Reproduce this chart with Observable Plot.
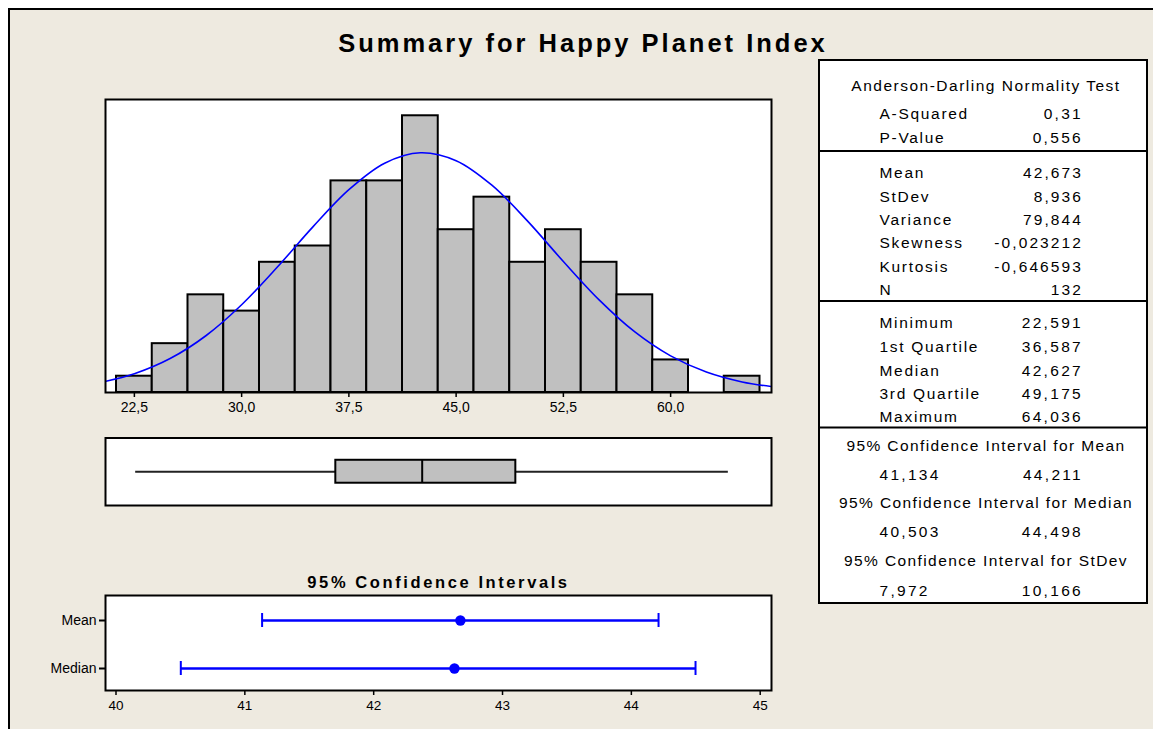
<!DOCTYPE html>
<html><head><meta charset="utf-8">
<script src="https://cdn.jsdelivr.net/npm/d3@7"></script>
<script src="https://cdn.jsdelivr.net/npm/@observablehq/plot@0.6"></script>
<style>
html,body{margin:0;padding:0;background:#fff;}
#page{position:relative;width:1153px;height:729px;overflow:hidden;background:#fff;font-family:"Liberation Sans",Arial,sans-serif;}
#panel{position:absolute;left:8px;top:8px;width:1160px;height:740px;background:#EEEAE0;border-left:2px solid #000;border-top:2px solid #000;}
#page svg{position:absolute;left:0;top:0;}
</style></head><body><div id="page"><div id="panel"></div></div>
<script>
// ---------- data ----------
const chartTitle = "Summary for Happy Planet Index";
const binLower = [21.25,23.75,26.25,28.75,31.25,33.75,36.25,38.75,41.25,43.75,46.25,48.75,51.25,53.75,56.25,58.75,61.25,63.75];
const binUpper = [23.75,26.25,28.75,31.25,33.75,36.25,38.75,41.25,43.75,46.25,48.75,51.25,53.75,56.25,58.75,61.25,63.75,66.25];
const binCounts = [1,3,6,5,8,9,13,13,17,10,12,8,10,8,6,2,0,1];
const histTicks = [22.5,30,37.5,45,52.5,60];
// fitted normal curve (in count units)
const curveX = [20,22.5,25,27.5,30,32.5,35,37.5,40,42.5,45,47.5,50,52.5,55,57.5,60,62.5,65,67.5];
const curveY = [0.589,1.152,2.084,3.486,5.390,7.707,10.191,12.460,14.088,14.730,14.242,12.733,10.527,8.047,5.690,3.719,2.248,1.256,0.650,0.311];
// boxplot
const boxMin = 22.591, boxQ1 = 36.587, boxMedian = 42.627, boxQ3 = 49.175, boxMax = 64.036;
// confidence intervals
const ciLabels = ["Mean","Median"];
const ciLow = [41.134, 40.503];
const ciHigh = [44.211, 44.498];
const ciEstimate = [42.673, 42.627];
const ciTicks = [40,41,42,43,44,45];
const ciTitle = "95% Confidence Intervals";
// statistics table
const adHeader = "Anderson-Darling Normality Test";
const adLabels = ["A-Squared","P-Value"];
const adValues = ["0,31","0,556"];
const descLabels = ["Mean","StDev","Variance","Skewness","Kurtosis","N"];
const descValues = ["42,673","8,936","79,844","-0,023212","-0,646593","132"];
const quartLabels = ["Minimum","1st Quartile","Median","3rd Quartile","Maximum"];
const quartValues = ["22,591","36,587","42,627","49,175","64,036"];
const ciHeaders = ["95% Confidence Interval for Mean","95% Confidence Interval for Median","95% Confidence Interval for StDev"];
const ciLowText = ["41,134","40,503","7,972"];
const ciHighText = ["44,211","44,498","10,166"];

// ---------- layout ----------
const W = 1153, H = 729;
const FONT = '"Liberation Sans", Arial, sans-serif';
const page = document.getElementById("page");
const frameL = 105, frameR = 771;
const histXDomain = [20.481, 67.054];
const baseStyle = {background: "transparent", fontFamily: FONT, color: "#000", overflow: "visible"};

const bins = binLower.map((lo, i) => ({lo, hi: binUpper[i], n: binCounts[i]}));
const curve = curveX.map((x, i) => ({x, y: curveY[i]}));

// Histogram
const hist = Plot.plot({
  width: W, height: H,
  marginLeft: frameL, marginRight: W - frameR, marginTop: 99, marginBottom: H - 392,
  style: baseStyle,
  x: {domain: histXDomain, axis: null},
  y: {domain: [0, 18], axis: null},
  marks: [
    Plot.frame({fill: "white"}),
    Plot.rect(bins, {x1: "lo", x2: "hi", y1: 0, y2: "n", fill: "#C0C0C0", stroke: "black", strokeWidth: 2}),
    Plot.line(curve, {x: "x", y: "y", stroke: "#0000FF", strokeWidth: 1.6, curve: "catmull-rom", clip: true}),
    Plot.frame({stroke: "black", strokeWidth: 2}),
    Plot.axisX(histTicks, {anchor: "bottom", tickSize: 5, tickPadding: 5, fontSize: 14, strokeWidth: 1.5,
      tickFormat: d => d.toFixed(1).replace(".", ","), label: null})
  ]
});
page.appendChild(hist);

// Boxplot
const box = Plot.plot({
  width: W, height: H,
  marginLeft: frameL, marginRight: W - frameR, marginTop: 437.5, marginBottom: H - 505,
  style: baseStyle,
  x: {domain: histXDomain, axis: null},
  y: {domain: [0, 1], axis: null},
  marks: [
    Plot.frame({fill: "white", stroke: "black", strokeWidth: 2}),
    Plot.ruleY([0.5], {x1: boxMin, x2: boxQ1, stroke: "#222", strokeWidth: 2}),
    Plot.ruleY([0.5], {x1: boxQ3, x2: boxMax, stroke: "#222", strokeWidth: 2}),
    Plot.rect([0], {x1: boxQ1, x2: boxQ3, y1: 0.33, y2: 0.67, fill: "#C0C0C0", stroke: "black", strokeWidth: 2}),
    Plot.ruleX([boxMedian], {y1: 0.33, y2: 0.67, stroke: "black", strokeWidth: 2})
  ]
});
page.appendChild(box);

// Confidence intervals
const ci = ciLabels.map((label, i) => ({label, low: ciLow[i], high: ciHigh[i], est: ciEstimate[i]}));
const ciPlot = Plot.plot({
  width: W, height: H,
  marginLeft: frameL, marginRight: W - frameR, marginTop: 595, marginBottom: H - 690,
  style: baseStyle,
  x: {domain: [39.9185, 45.0877], axis: null},
  y: {type: "band", domain: ciLabels, range: [612.5, 675.0], paddingInner: 0.71, paddingOuter: 0, axis: null},
  marks: [
    Plot.frame({fill: "white", stroke: "black", strokeWidth: 2}),
    Plot.ruleY(ci, {y: "label", x1: "low", x2: "high", stroke: "#0000FF", strokeWidth: 2.5}),
    Plot.tickX(ci, {x: "low", y: "label", stroke: "#0000FF", strokeWidth: 2}),
    Plot.tickX(ci, {x: "high", y: "label", stroke: "#0000FF", strokeWidth: 2}),
    Plot.dot(ci, {x: "est", y: "label", r: 5.2, fill: "#0000FF", stroke: "none"}),
    Plot.axisX(ciTicks, {anchor: "bottom", tickSize: 5, tickPadding: 5, fontSize: 13.5, strokeWidth: 1.5, tickFormat: d => String(d), label: null}),
    Plot.axisY({anchor: "left", tickSize: 6, tickPadding: 3, fontSize: 14, strokeWidth: 2, label: null})
  ]
});
page.appendChild(ciPlot);

// Titles and statistics table
const svg = d3.select(page).append("svg").attr("width", W).attr("height", H)
  .style("font-family", FONT).style("overflow", "visible");

svg.append("text").attr("x", 583).attr("y", 52).attr("text-anchor", "middle")
  .style("font-size", "25.5px").style("font-weight", "bold").style("letter-spacing", "3px").text(chartTitle);
svg.append("text").attr("x", 438.5).attr("y", 587.5).attr("text-anchor", "middle")
  .style("font-size", "16.5px").style("font-weight", "bold").style("letter-spacing", "2.6px").text(ciTitle);

const tL = 819, tR = 1147, tTop = 60, tBot = 603;
svg.append("rect").attr("x", tL).attr("y", tTop).attr("width", tR - tL).attr("height", tBot - tTop)
  .attr("fill", "white").attr("stroke", "black").attr("stroke-width", 2);
[151, 301, 427.5].forEach(y => svg.append("line").attr("x1", tL).attr("x2", tR).attr("y1", y).attr("y2", y)
  .attr("stroke", "black").attr("stroke-width", 2));

const labX = 879.5, valX = 1083, midX = 985;
function txt(x, y, s, anchor, ls) {
  svg.append("text").attr("x", x).attr("y", y).attr("text-anchor", anchor)
    .style("font-size", "15.5px").style("letter-spacing", ls + "px").text(s);
}
txt(midX + 1, 91, adHeader, "middle", 1.5);
const adY = [119, 143.3];
adLabels.forEach((s, i) => { txt(labX, adY[i], s, "start", 1.7); txt(valX, adY[i], adValues[i], "end", 2.3); });
const descY = [178.3, 201.7, 224.5, 248.3, 271.7, 294.5];
descLabels.forEach((s, i) => { txt(labX, descY[i], s, "start", 1.7); txt(valX, descY[i], descValues[i], "end", 2.1); });
const quartY = [328.3, 351.7, 375.5, 399.3, 421.7];
quartLabels.forEach((s, i) => { txt(labX, quartY[i], s, "start", 1.7); txt(valX, quartY[i], quartValues[i], "end", 2.3); });
const hdrY = [450.7, 508.3, 565.7], valY = [480, 537.3, 596];
ciHeaders.forEach((s, i) => {
  txt(midX + 1, hdrY[i], s, "middle", 1.4);
  txt(labX, valY[i], ciLowText[i], "start", 2.3);
  txt(valX, valY[i], ciHighText[i], "end", 2.3);
});
</script></body></html>
